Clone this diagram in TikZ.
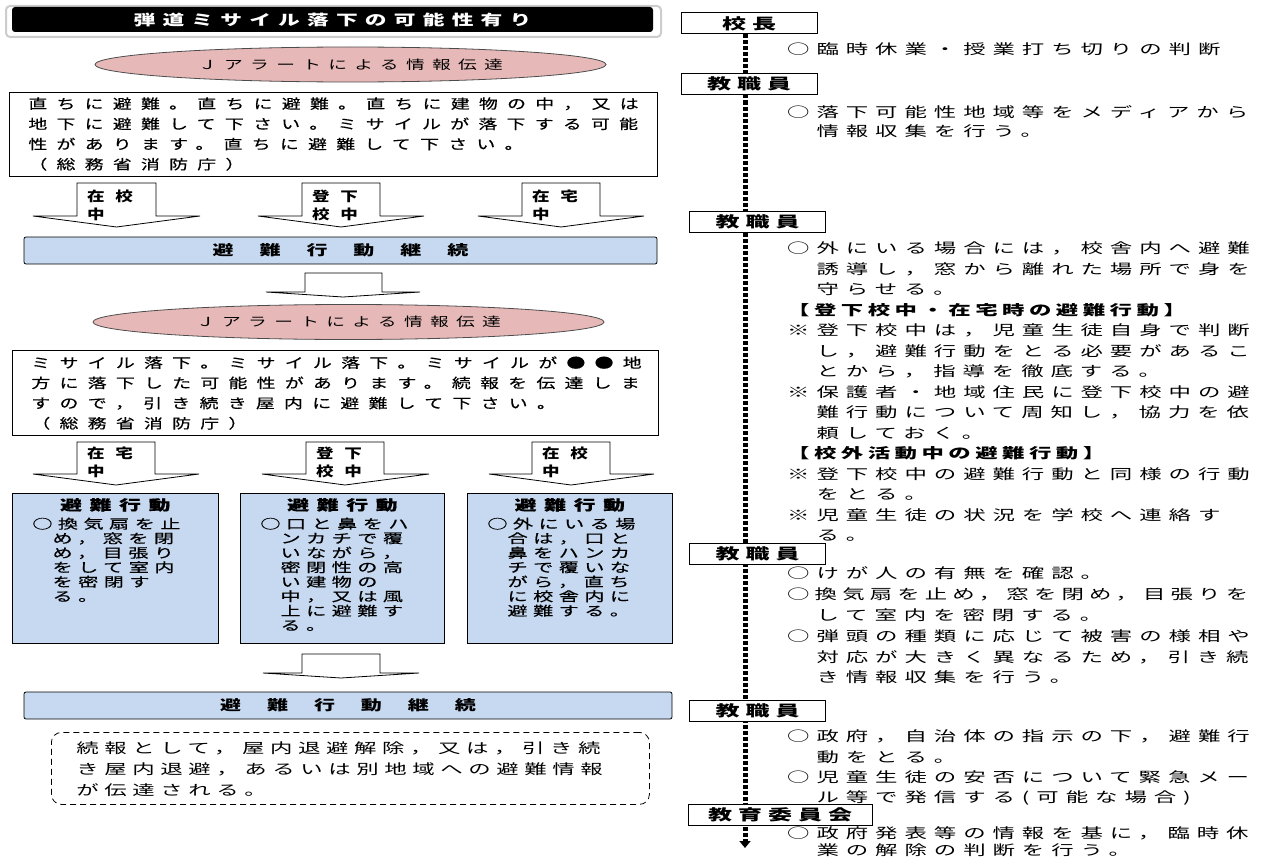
\documentclass[tikz,border=0pt]{standalone}
\usepackage{graphicx}
\usepackage{fontspec}
\setmainfont{Noto Sans CJK JP}
\usetikzlibrary{shapes.geometric}
\usetikzlibrary{arrows.meta}
\definecolor{alertpink}{HTML}{E6B9B8}
\definecolor{actblue}{HTML}{C6D9F1}
\newcommand{\jset}[3]{\fontsize{#1pt}{#2pt}\selectfont\addfontfeature{LetterSpace=#3}}
\newcommand{\wide}[2]{\scalebox{#1}[1]{#2}}

\begin{document}
\begin{tikzpicture}[x=1pt,y=-1pt,
  titlebar/.style={fill=black,text=white,rounded corners=3pt,minimum width=641pt,minimum height=25pt,inner sep=0pt,font=\jset{14.5}{15}{33}\bfseries},
  alert/.style={ellipse,draw=black!70,fill=alertpink,line width=0.8pt,minimum width=511pt,minimum height=35pt,inner sep=0pt,font=\jset{12.5}{13}{39}},
  msgbox/.style={draw=black,fill=white,line width=0.8pt,anchor=north west,inner xsep=19pt,font=\jset{13.5}{20.2}{49}\addfontfeature{FakeBold=0.4}},
  hollow/.style={draw=black,fill=white,line width=0.8pt,line join=miter},
  armlabel/.style={anchor=north west,inner sep=0pt,font=\jset{13.5}{18}{60}\bfseries},
  actbar/.style={draw=black,fill=actblue,line width=0.8pt,rounded corners=2pt,minimum width=633pt,minimum height=27pt,inner sep=0pt,font=\jset{14}{14}{0}\bfseries},
  actbox/.style={draw=black,fill=actblue,line width=0.8pt,anchor=north west,inner xsep=20pt,inner ysep=4.8pt,font=\jset{13}{14.5}{27}\addfontfeature{FakeBold=0.4}},
  notebox/.style={draw=black,line width=0.8pt,dash pattern=on 6pt off 4pt,rounded corners=10pt,anchor=north west,inner xsep=25pt,inner ysep=9pt,font=\jset{14}{21}{25}},
  role/.style={draw=black,fill=white,line width=1pt,minimum width=136pt,minimum height=21pt,inner sep=0pt,font=\jset{15}{15}{25}\bfseries},
  duty/.style={anchor=north west,inner sep=0pt,font=\jset{14}{20.5}{31}},
  timeline/.style={line width=5pt,dash pattern=on 4pt off 2pt}]
\def\l{7pt}
\def\w{11pt}
\def\gap{\hspace{17.3pt}}
\def\ind{\phantom{○}}
\useasboundingbox (0,0) rectangle (1272,859);

% left column
\draw[draw=gray!40,fill=white,line width=2pt,rounded corners=4pt] (6,6) rectangle (661,37);
\node [titlebar, name=title] at (332.5,19.5) {\wide{1.5}{弾道ミサイル落下の可能性有り}};
\node [alert, name=jalert1] at (350.5,64.5) {\wide{1.5}{Ｊアラートによる情報伝達}};
\node [msgbox, name=msg1, inner ysep=5pt] at (9,92) {\wide{1.4}{\parbox[t][74pt][t]{436pt}{直ちに避難。直ちに避難。直ちに建物の中，又は\\地下に避難して下さい。ミサイルが落下する可能\\性があります。直ちに避難して下さい。\\（総務省消防庁）}}};
\draw [hollow] (77,183) -- (156,183) -- (156,216) -- (200,216) -- (116.5,227) -- (33,216) -- (77,216) -- cycle;
\draw [hollow] (302,183) -- (380,183) -- (380,216) -- (424,216) -- (341,227) -- (258,216) -- (302,216) -- cycle;
\draw [hollow] (522,183) -- (600,183) -- (600,216) -- (644,216) -- (561,227) -- (478,216) -- (522,216) -- cycle;
\node [armlabel, name=in1] at (87,190) {\wide{1.3}{\parbox[t]{50pt}{在校\\中}}};
\node [armlabel, name=way1] at (312,190) {\wide{1.3}{\parbox[t]{50pt}{登下\\校中}}};
\node [armlabel, name=home1] at (532,190) {\wide{1.3}{\parbox[t]{50pt}{在宅\\中}}};
\node [actbar, name=bar1] at (340.5,250.5) {\wide{1.5}{避\gap 難\gap 行\gap 動\gap 継\gap 続}};
\draw [hollow] (305,273) -- (382,273) -- (382,292) -- (420,292) -- (343,297) -- (266,292) -- (305,292) -- cycle;
\node [alert, name=jalert2] at (348.5,322) {\wide{1.5}{Ｊアラートによる情報伝達}};
\node [msgbox, name=msg2, inner ysep=6pt] at (12,350) {\wide{1.4}{\parbox[t][73pt][t]{434pt}{ミサイル落下。ミサイル落下。ミサイルが●●地\\方に落下した可能性があります。続報を伝達しま\\すので，引き続き屋内に避難して下さい。\\（総務省消防庁）}}};
\draw [hollow] (77,442) -- (155,442) -- (155,474) -- (199,474) -- (116,485) -- (33,474) -- (77,474) -- cycle;
\draw [hollow] (306,442) -- (384,442) -- (384,474) -- (429,474) -- (345,485) -- (262,474) -- (306,474) -- cycle;
\draw [hollow] (532,442) -- (610,442) -- (610,474) -- (654,474) -- (571,485) -- (489,474) -- (532,474) -- cycle;
\node [armlabel, name=home2] at (87,447) {\wide{1.3}{\parbox[t]{50pt}{在宅\\中}}};
\node [armlabel, name=way2] at (316,447) {\wide{1.3}{\parbox[t]{50pt}{登下\\校中}}};
\node [armlabel, name=in2] at (542,447) {\wide{1.3}{\parbox[t]{50pt}{在校\\中}}};
\node [actbox, name=acthome] at (12,493) {\wide{1.55}{\parbox[t][140pt][t]{107pt}{{\jset{14}{14}{36}\bfseries\centering 避難行動\par}\vspace{4pt}○換気扇を止\\\ind め，窓を閉\\\ind め，目張り\\\ind をして室内\\\ind を密閉す\\\ind る。}}};
\node [actbox, name=actway] at (240,493) {\wide{1.55}{\parbox[t][140pt][t]{105.8pt}{{\jset{14}{14}{36}\bfseries\centering 避難行動\par}\vspace{4pt}○口と鼻をハ\\\ind ンカチで覆\\\ind いながら，\\\ind 密閉性の高\\\ind い建物の\\\ind 中，又は風\\\ind 上に避難す\\\ind る。}}};
\node [actbox, name=actin] at (467,493) {\wide{1.55}{\parbox[t][140pt][t]{106.4pt}{{\jset{14}{14}{36}\bfseries\centering 避難行動\par}\vspace{4pt}○外にいる場\\\ind 合は，口と\\\ind 鼻をハンカ\\\ind チで覆いな\\\ind がら，直ち\\\ind に校舎内に\\\ind 避難する。}}};
\draw [hollow] (302,654) -- (380,654) -- (380,673) -- (419,673) -- (341,678) -- (263,673) -- (302,673) -- cycle;
\node [actbar, name=bar2, minimum width=648pt] at (348,705.5) {\wide{1.5}{避\gap 難\gap 行\gap 動\gap 継\gap 続}};
\node [notebox, name=note] at (51,732) {\wide{1.6}{\parbox[t][54pt][t]{342.5pt}{続報として，屋内退避解除，又は，引き続\\き屋内退避，あるいは別地域への避難情報\\が伝達される。}}};

% right column
\node [role, name=head] at (749,23.5) {\wide{1.6}{校長}};
\coordinate (tlend) at (745,848);
\draw [timeline, -{Triangle[length=\l, width=\w]}] (head.south -| tlend) -- (tlend);
\node [role, name=staff1] at (749,84) {\wide{1.6}{教職員}};
\node [role, name=staff2] at (757.5,222) {\wide{1.6}{教職員}};
\node [role, name=staff3] at (757.5,554) {\wide{1.6}{教職員}};
\node [role, name=staff4] at (757.5,711) {\wide{1.6}{教職員}};
\node [role, name=board, minimum width=184pt] at (780,815) {\wide{1.6}{教育委員会}};
\node [duty, name=d1] at (787,42.8) {\wide{1.6}{\parbox[t]{290pt}{○臨時休業・授業打ち切りの判断}}};
\node [duty, name=d2, font=\jset{14}{19}{31}] at (787,105.8) {\wide{1.6}{\parbox[t]{290pt}{○落下可能性地域等をメディアから\\　情報収集を行う。}}};
\node [duty, name=d3] at (787,241.8) {\wide{1.6}{\parbox[t]{290pt}{○外にいる場合には，校舎内へ避難\\　誘導し，窓から離れた場所で身を\\　守らせる。\\{\bfseries\addfontfeature{LetterSpace=20}【登下校中・在宅時の避難行動】}\\※登下校中は，児童生徒自身で判断\\　し，避難行動をとる必要があるこ\\　とから，指導を徹底する。\\※保護者・地域住民に登下校中の避\\　難行動について周知し，協力を依\\　頼しておく。\\{\bfseries\addfontfeature{LetterSpace=20}【校外活動中の避難行動】}\\※登下校中の避難行動と同様の行動\\　をとる。\\※児童生徒の状況を学校へ連絡す\\　る。}}};
\node [duty, name=d4, font=\jset{14}{20.8}{31}] at (787,566.8) {\wide{1.6}{\parbox[t]{290pt}{○けが人の有無を確認。\\{\addfontfeature{LetterSpace=23}○換気扇を止め，窓を閉め，目張りを}\\　して室内を密閉する。\\○弾頭の種類に応じて被害の様相や\\　対応が大きく異なるため，引き続\\　き情報収集を行う。}}};
\node [duty, name=d5, font=\jset{14}{20.3}{31}] at (787,729.8) {\wide{1.6}{\parbox[t]{290pt}{○政府，自治体の指示の下，避難行\\　動をとる。\\○児童生徒の安否について緊急メー\\　ル等で発信する(可能な場合)}}};
\node [duty, name=d6, font=\jset{14}{17}{31}] at (787,826.5) {\wide{1.6}{\parbox[t]{290pt}{○政府発表等の情報を基に，臨時休\\　業の解除の判断を行う。}}};
\end{tikzpicture}
\end{document}
